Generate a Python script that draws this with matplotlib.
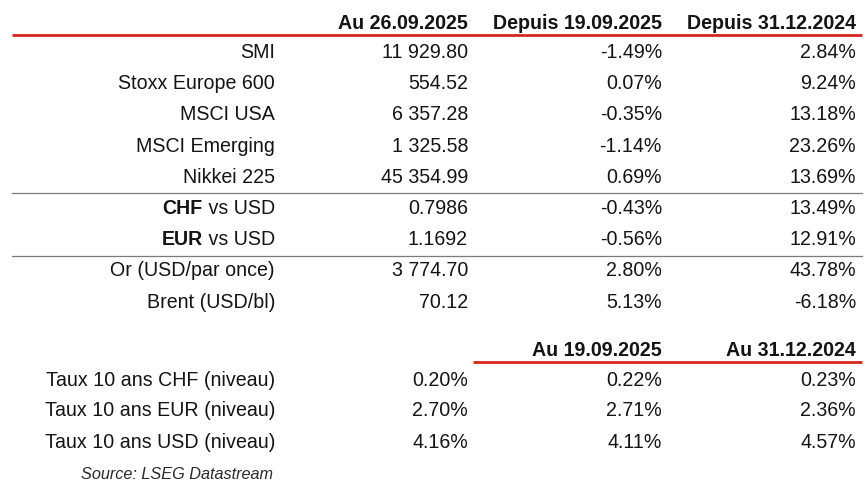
import matplotlib
matplotlib.use("Agg")
import matplotlib.pyplot as plt

plt.rcParams['font.family'] = ['Liberation Sans', 'DejaVu Sans']

# table content
headers = ["Au 26.09.2025", "Depuis 19.09.2025", "Depuis 31.12.2024"]
rows = ["SMI", "Stoxx Europe 600", "MSCI USA", "MSCI Emerging", "Nikkei 225",
        "CHF|vs USD", "EUR|vs USD", "Or (USD/par once)", "Brent (USD/bl)"]
level = ["11 929.80", "554.52", "6 357.28", "1 325.58", "45 354.99",
         "0.7986", "1.1692", "3 774.70", "70.12"]
chg_week = ["-1.49%", "0.07%", "-0.35%", "-1.14%", "0.69%",
            "-0.43%", "-0.56%", "2.80%", "5.13%"]
chg_ytd = ["2.84%", "9.24%", "13.18%", "23.26%", "13.69%",
           "13.49%", "12.91%", "43.78%", "-6.18%"]

rate_headers = ["Au 19.09.2025", "Au 31.12.2024"]
rate_rows = ["Taux 10 ans CHF (niveau)", "Taux 10 ans EUR (niveau)",
             "Taux 10 ans USD (niveau)"]
rate_now = ["0.20%", "2.70%", "4.16%"]
rate_week = ["0.22%", "2.71%", "4.11%"]
rate_ytd = ["0.23%", "2.36%", "4.57%"]
source = "Source: LSEG Datastream"

W, H = 865, 488
fig = plt.figure(figsize=(W / 100, H / 100), dpi=100)
ax = fig.add_axes([0, 0, 1, 1])
ax.set_xlim(0, W)
ax.set_ylim(H, 0)
ax.axis("off")

col_x = [275, 468, 662, 856]
fs = 14.1
txt = "#141414"
red = "#d7261e"

# header
for x, h in zip(col_x[1:], headers):
    ax.text(x, 29, h, ha="right", va="baseline", fontsize=fs, fontweight="bold", color=txt)
ax.plot([12, 862], [35.3, 35.3], color=red, lw=2.0, solid_capstyle="butt")

renderer = fig.canvas.get_renderer()
row_y0, row_dy = 58, 31.2
for i, lab in enumerate(rows):
    y = row_y0 + i * row_dy
    if "|" in lab:
        bold, rest = lab.split("|")
        t = ax.text(col_x[0], y, " " + rest, ha="right", va="baseline", fontsize=fs, color=txt)
        bb = t.get_window_extent(renderer)
        ax.text(bb.x0, y, bold, ha="right", va="baseline", fontsize=fs,
                fontweight="bold", color=txt)
    else:
        ax.text(col_x[0], y, lab, ha="right", va="baseline", fontsize=fs, color=txt)
    for x, v in zip(col_x[1:], (level[i], chg_week[i], chg_ytd[i])):
        ax.text(x, y, v, ha="right", va="baseline", fontsize=fs, color=txt)

for yl in (192.7, 255.7):
    ax.plot([12, 862], [yl, yl], color="#7a7a7a", lw=0.9)

# rates block
for x, h in zip(col_x[2:], rate_headers):
    ax.text(x, 356, h, ha="right", va="baseline", fontsize=fs, fontweight="bold", color=txt)
ax.plot([473, 862], [362, 362], color=red, lw=2.0, solid_capstyle="butt")

for i, lab in enumerate(rate_rows):
    y = 385.5 + i * 31
    ax.text(col_x[0], y, lab, ha="right", va="baseline", fontsize=fs, color=txt)
    for x, v in zip(col_x[1:], (rate_now[i], rate_week[i], rate_ytd[i])):
        ax.text(x, y, v, ha="right", va="baseline", fontsize=fs, color=txt)

ax.text(273, 479, source, ha="right", va="baseline", fontsize=11.7,
        style="italic", color="#2a2a2a")

fig.savefig("out.png", dpi=100)
